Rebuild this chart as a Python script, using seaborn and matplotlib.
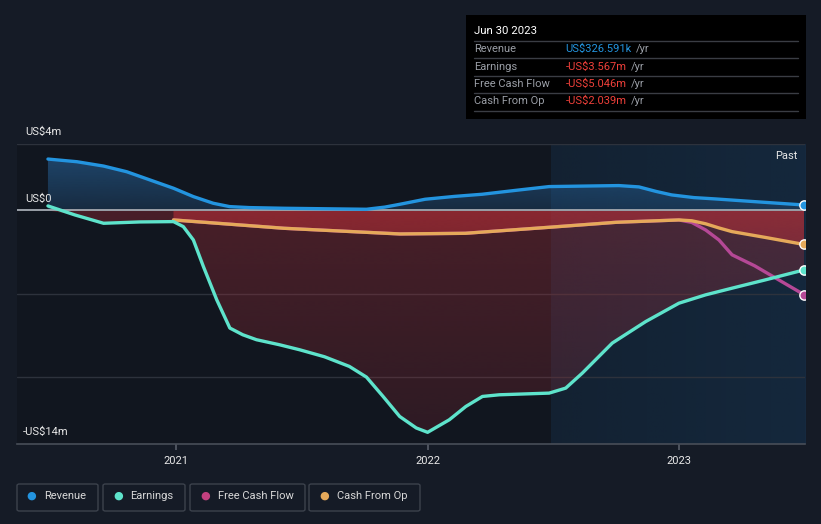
import numpy as np
import pandas as pd
import matplotlib
matplotlib.use("Agg")
import matplotlib.pyplot as plt
import matplotlib.colors as mcolors
from matplotlib.patches import FancyBboxPatch, Rectangle
from matplotlib.lines import Line2D
import seaborn as sns

# ---------------- data (US$ m, decimal years) ----------------
rev_t = [2020.491, 2020.606, 2020.712, 2020.804, 2020.896, 2020.990, 2021.069, 2021.148,
         2021.213, 2021.292, 2021.430, 2021.757, 2021.830, 2021.890, 2021.990, 2022.106,
         2022.217, 2022.348, 2022.483, 2022.760, 2022.840, 2022.908, 2022.970, 2023.058,
         2023.144, 2023.316, 2023.496]
rev_v = [3.08, 2.92, 2.66, 2.32, 1.83, 1.33, 0.83, 0.43,
         0.23, 0.17, 0.13, 0.07, 0.20, 0.37, 0.67, 0.84,
         0.97, 1.20, 1.43, 1.49, 1.41, 1.14, 0.93, 0.77,
         0.69, 0.51, 0.3266]

earn_t = [2020.491, 2020.598, 2020.712, 2020.856, 2020.990, 2021.029, 2021.069, 2021.109,
          2021.162, 2021.214, 2021.265, 2021.320, 2021.411, 2021.491, 2021.590, 2021.689,
          2021.757, 2021.823, 2021.889, 2021.955, 2022.000, 2022.086, 2022.152, 2022.218,
          2022.285, 2022.483, 2022.549, 2022.615, 2022.734, 2022.867, 2022.999, 2023.105,
          2023.210, 2023.343, 2023.496]
earn_v = [0.27, -0.27, -0.77, -0.69, -0.67, -0.97, -1.77, -3.37,
          -5.36, -7.05, -7.45, -7.75, -8.05, -8.35, -8.77, -9.35,
          -9.99, -11.15, -12.35, -13.04, -13.30, -12.55, -11.75, -11.15,
          -11.05, -10.95, -10.65, -9.75, -7.95, -6.66, -5.56, -5.06,
          -4.66, -4.16, -3.567]

cfo_t = [2020.990, 2021.430, 2021.890, 2022.150, 2022.483, 2022.750, 2022.999, 2023.050,
         2023.105, 2023.158, 2023.210, 2023.343, 2023.496]
cfo_v = [-0.57, -1.07, -1.41, -1.37, -1.01, -0.71, -0.57, -0.62,
         -0.80, -1.05, -1.27, -1.62, -2.039]

fcf_t = [2020.990, 2021.430, 2021.890, 2022.150, 2022.483, 2022.750, 2022.999, 2023.050,
         2023.105, 2023.158, 2023.210, 2023.300, 2023.496]
fcf_v = [-0.57, -1.07, -1.41, -1.37, -1.01, -0.71, -0.57, -0.72,
         -1.17, -1.77, -2.66, -3.32, -5.046]

year_ticks = [2021, 2022, 2023]
year_labels = ["2021", "2022", "2023"]
y_labels = {4: "US$4m", 0: "US$0", -14: "-US$14m"}
past_start = 2022.49

series_names = ["Revenue", "Earnings", "Free Cash Flow", "Cash From Op"]
tooltip_vals = ["US$326.591k", "-US$3.567m", "-US$5.046m", "-US$2.039m"]

# ---------------- style ----------------
W, H = 821, 524
BG = "#151b26"
PLOT_BG = "#11161f"
C_REV = "#2394df"
C_EARN = "#5ee3cb"
C_FCF = "#b54896"
C_CFO = "#e5a95a"
TXT = "#e8e8e8"

sns.set_theme(style="dark")
plt.rcParams["font.family"] = ["Roboto", "DejaVu Sans"]

fig = plt.figure(figsize=(W / 100, H / 100), dpi=100, facecolor=BG)


def fx(x):
    return x / W


def fy(y):
    return 1 - y / H


ax = fig.add_axes([fx(17), fy(444), fx(805 - 17), (444 - 143.7) / H])
ax.set_facecolor(PLOT_BG)
XMIN, XMAX = 2020.368, 2023.50
YMIN, YMAX = -14, 4

# past region (horizontal gradient)
n = 256
img = np.zeros((1, n, 4))
img[..., :3] = mcolors.to_rgb("#173552")
img[..., 3] = np.linspace(0.38, 0.58, n)[None, :]
ax.imshow(img, aspect="auto", extent=[past_start, XMAX, YMIN, YMAX], origin="lower",
          zorder=0.5, interpolation="bilinear")

# gridlines
for gy in [4, -5, -10]:
    ax.axhline(gy, color="#2d323c", lw=1, zorder=1)


def grad_fill(x, y1, y2, color, a_top, a_bot, top, bot, z):
    poly = ax.fill_between(x, y1, y2, color="none", lw=0)
    path = poly.get_paths()[0]
    rgb = mcolors.to_rgb(color)
    m = 256
    im_arr = np.zeros((m, 1, 4))
    im_arr[..., :3] = rgb
    im_arr[..., 3] = np.linspace(a_bot, a_top, m)[:, None]
    im = ax.imshow(im_arr, aspect="auto", extent=[XMIN, XMAX, bot, top],
                   origin="lower", zorder=z, interpolation="bilinear")
    im.set_clip_path(path, transform=ax.transData)


grad_fill(rev_t, rev_v, 0, "#2a6ca8", 0.55, 0.25, 3.2, 0, 2)
earn_neg = np.minimum(np.array(earn_v), 0)
grad_fill(earn_t, earn_neg, 0, "#b0303a", 0.35, 0.18, 0, -13.5, 2)
grad_fill(cfo_t, cfo_v, 0, "#c03038", 0.55, 0.45, 0, -2.2, 2)

# zero line
ax.axhline(0, color="#9aa0a8", lw=1.4, zorder=3)

# lines via seaborn
df = pd.concat([
    pd.DataFrame({"t": rev_t, "v": rev_v, "s": "Revenue"}),
    pd.DataFrame({"t": earn_t, "v": earn_v, "s": "Earnings"}),
    pd.DataFrame({"t": fcf_t, "v": fcf_v, "s": "Free Cash Flow"}),
    pd.DataFrame({"t": cfo_t, "v": cfo_v, "s": "Cash From Op"}),
])
palette = {"Revenue": C_REV, "Earnings": C_EARN, "Free Cash Flow": C_FCF, "Cash From Op": C_CFO}
for name in ["Free Cash Flow", "Cash From Op", "Earnings", "Revenue"]:
    sub = df[df.s == name]
    sns.lineplot(data=sub, x="t", y="v", color=palette[name], lw=2.4, ax=ax,
                 sort=False, legend=False, zorder=5, solid_joinstyle="round",
                 solid_capstyle="round")
    ax.scatter([sub.t.iloc[-1]], [sub.v.iloc[-1]], s=45, color=palette[name],
               edgecolor="white", linewidth=1, zorder=6)

ax.set_xlim(XMIN, XMAX)
ax.set_ylim(YMIN, YMAX)
ax.set_xlabel("")
ax.set_ylabel("")
ax.set_yticks([])
ax.set_xticks(year_ticks)
ax.set_xticklabels(year_labels, color=TXT, fontsize=8)
ax.tick_params(axis="x", length=4, color="#555b66", pad=5, bottom=True)
for s in ["top", "right", "left"]:
    ax.spines[s].set_visible(False)
ax.spines["bottom"].set_color("#484e58")
ax.spines["bottom"].set_linewidth(1.2)

# y labels
fig.text(fx(25), fy(132), y_labels[4], color=TXT, fontsize=8, va="center", ha="left")
fig.text(fx(25), fy(199), y_labels[0], color=TXT, fontsize=8, va="center", ha="left")
fig.text(fx(23), fy(432), y_labels[-14], color=TXT, fontsize=8, va="center", ha="left")

fig.text(fx(797), fy(156), "Past", color=TXT, fontsize=8, va="center", ha="right")

# tooltip
fig.patches.append(Rectangle((fx(466), fy(119)), fx(340), 104 / H, transform=fig.transFigure,
                             facecolor="#000000", edgecolor="none", zorder=1))
for ly in [41, 58.3, 76, 93.3, 111]:
    fig.lines.append(Line2D([fx(474), fx(798)], [fy(ly), fy(ly)], transform=fig.transFigure,
                            color="#3a3d44", lw=1, zorder=2))
fig.text(fx(474), fy(30.7), "Jun 30 2023", color="#ffffff", fontsize=8.2, va="center", ha="left", zorder=3)
row_y = [49, 66.7, 84, 101]
val_colors = ["#2394df", "#f0403a", "#f0403a", "#f0403a"]
fig.canvas.draw()
renderer = fig.canvas.get_renderer()
for name, val, vc, ry in zip(series_names, tooltip_vals, val_colors, row_y):
    fig.text(fx(474), fy(ry), name, color="#9a9ea6", fontsize=8, va="center", ha="left", zorder=3)
    t = fig.text(fx(565.5), fy(ry), val, color=vc, fontsize=8, va="center", ha="left", zorder=3)
    bb = t.get_window_extent(renderer=renderer)
    fig.text(bb.x1 / W + fx(4), fy(ry), "/yr", color="#9a9ea6", fontsize=8, va="center", ha="left", zorder=3)

# legend boxes
boxes = [(17, 98), (103, 185), (190, 305), (309, 420)]
dots = [31.5, 118, 205, 324.5]
leg_colors = [C_REV, C_EARN, "#c2407f", C_CFO]
for (x0, x1), dx, name, c in zip(boxes, dots, series_names, leg_colors):
    fig.patches.append(FancyBboxPatch((fx(x0), fy(511)), fx(x1 - x0), 27 / H,
                                      boxstyle="round,pad=0,rounding_size=0.003",
                                      transform=fig.transFigure, facecolor="none",
                                      edgecolor="#3c424c", lw=1))
    fig.text(fx(dx), fy(496), "\u25CF", color=c, fontsize=8, va="center", ha="center",
             family=["DejaVu Sans"])
    fig.text(fx(dx + 12.5), fy(496), name, color="#d8d8d8", fontsize=8, va="center", ha="left")

fig.savefig("out.png", dpi=100, facecolor=BG)
